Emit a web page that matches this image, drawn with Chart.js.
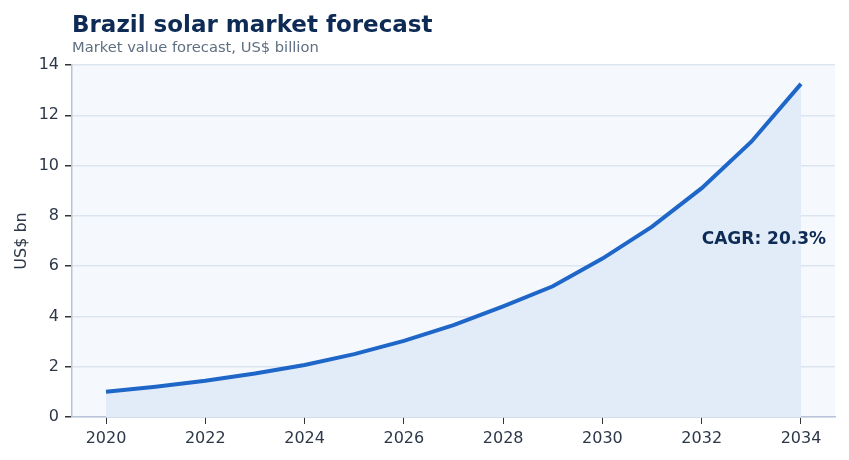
<!DOCTYPE html>
<html>
<head>
<meta charset="utf-8">
<script src="https://cdn.jsdelivr.net/npm/chart.js@4.4.1/dist/chart.umd.min.js"></script>
<style>
  body { margin: 0; background: #fff; }
  #wrap { width: 849px; height: 460px; }
</style>
</head>
<body>
<div id="wrap"><canvas id="chart"></canvas></div>
<script>
// Market value, US$ bn
const years = [2020, 2021, 2022, 2023, 2024, 2025, 2026, 2027, 2028, 2029, 2030, 2031, 2032, 2033, 2034];
const marketValue = [1.0, 1.2, 1.44, 1.73, 2.07, 2.5, 3.03, 3.65, 4.4, 5.2, 6.3, 7.57, 9.1, 10.95, 13.25];
const xTickYears = [2020, 2022, 2024, 2026, 2028, 2030, 2032, 2034];
const cagrLabel = 'CAGR: 20.3%';

const FONT = "'DejaVu Sans', sans-serif";

// Header text + plot background + CAGR note
const decorations = {
    id: 'decorations',
    beforeDraw(chart) {
        const { ctx, chartArea: a } = chart;
        ctx.save();
        ctx.fillStyle = '#f5f8fd';
        ctx.fillRect(a.left, a.top, a.right - a.left, a.bottom - a.top);
        ctx.restore();
    },
    afterDraw(chart) {
        const { ctx, chartArea: a, scales } = chart;
        ctx.save();
        ctx.textAlign = 'left';
        ctx.textBaseline = 'alphabetic';
        ctx.fillStyle = '#0d2b55';
        ctx.font = 'bold 23px ' + FONT;
        ctx.fillText('Brazil solar market forecast', a.left, 32);
        ctx.fillStyle = '#5f6f82';
        ctx.font = '14.7px ' + FONT;
        ctx.fillText('Market value forecast, US$ billion', a.left, 52);

        ctx.fillStyle = '#0d2b55';
        ctx.font = 'bold 17px ' + FONT;
        ctx.textBaseline = 'middle';
        ctx.fillText(cagrLabel, scales.x.getPixelForValue(2032), scales.y.getPixelForValue(7.05));
        ctx.restore();
    }
};

new Chart(document.getElementById('chart'), {
    type: 'line',
    data: {
        datasets: [{
            data: years.map((y, i) => ({ x: y, y: marketValue[i] })),
            borderColor: '#1f66c9',
            borderWidth: 4,
            backgroundColor: '#e2ecf8',
            fill: 'origin',
            tension: 0,
            pointRadius: 0
        }]
    },
    options: {
        responsive: true,
        maintainAspectRatio: false,
        animation: false,
        layout: { padding: { top: 65, right: 14, bottom: 0, left: 0 } },
        plugins: {
            legend: { display: false },
            tooltip: { enabled: false }
        },
        scales: {
            x: {
                type: 'linear',
                min: 2019.315,
                max: 2034.685,
                afterBuildTicks: s => { s.ticks = xTickYears.map(v => ({ value: v })); },
                afterFit: s => { s.height = 43; },
                border: { color: '#b7c5d7', width: 1.5 },
                grid: { drawOnChartArea: false, drawTicks: true, tickLength: 7, tickColor: '#333' },
                ticks: { color: '#2d3748', font: { family: FONT, size: 16 }, padding: 5, maxRotation: 0,
                    callback: v => String(v) }
            },
            y: {
                min: 0,
                max: 14,
                afterFit: s => { s.width = 72; },
                border: { color: '#b7c5d7', width: 1.5 },
                grid: { color: '#dce5ef', lineWidth: 1.5, tickLength: 7, tickColor: '#333' },
                ticks: { stepSize: 2, color: '#2d3748', font: { family: FONT, size: 16 }, padding: 6 },
                title: { display: true, text: 'US$ bn', color: '#2d3748', font: { family: FONT, size: 16 }, padding: 12 }
            }
        }
    },
    plugins: [decorations]
});
</script>
</body>
</html>
